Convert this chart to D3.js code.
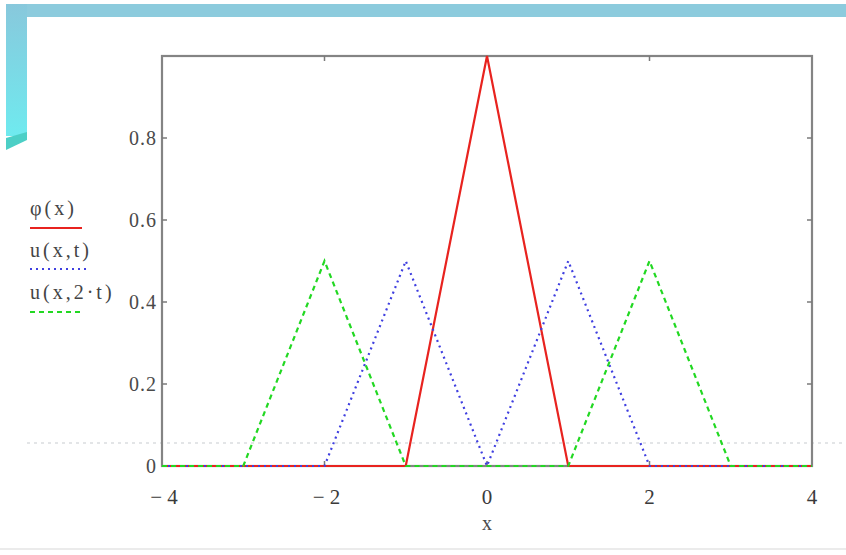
<!DOCTYPE html>
<html>
<head>
<meta charset="utf-8">
<script src="https://cdn.jsdelivr.net/npm/d3@7"></script>
<style>
  body { margin: 0; background: #fff; }
  text { font-family: "Liberation Serif", "DejaVu Serif", serif; }
</style>
</head>
<body>
<div id="chart"></div>
<script>
// grid points and series
var xs = [-4, -3, -2, -1, 0, 1, 2, 3, 4];
var phi = [0, 0, 0, 0, 1, 0, 0, 0, 0];
var uT = [0, 0, 0, 0.5, 0, 0.5, 0, 0, 0];
var u2T = [0, 0, 0.5, 0, 0, 0, 0.5, 0, 0];

var xTicks = [-4, -2, 0, 2, 4];
var yTicks = [0, 0.2, 0.4, 0.6, 0.8];
var legendLabels = ["φ(x)", "u(x,t)", "u(x,2·t)"];

var svgWidth = 846;
var svgHeight = 555;

var margin = { top: 56, right: 34, bottom: 89, left: 162 };
var width = svgWidth - margin.left - margin.right;
var height = svgHeight - margin.top - margin.bottom;

var svg = d3.select("#chart")
  .append("svg")
  .attr("width", svgWidth)
  .attr("height", svgHeight);

// slide decoration behind the plot
var defs = svg.append("defs");
var grad = defs.append("linearGradient")
  .attr("id", "sideGrad")
  .attr("x1", 0).attr("y1", 0).attr("x2", 0).attr("y2", 1);
grad.append("stop").attr("offset", "0%").attr("stop-color", "#88c8dc");
grad.append("stop").attr("offset", "100%").attr("stop-color", "#6feaef");

svg.append("rect")
  .attr("x", 6).attr("y", 4)
  .attr("width", 840).attr("height", 13)
  .attr("fill", "#8ccbdd");
svg.append("rect")
  .attr("x", 6).attr("y", 4)
  .attr("width", 21).attr("height", 132)
  .attr("fill", "url(#sideGrad)");
svg.append("path")
  .attr("d", "M6,138 L27,132 L27,140 L6,150 Z")
  .attr("fill", "#4ccfc6");
svg.append("line")
  .attr("x1", 27).attr("x2", 846)
  .attr("y1", 443).attr("y2", 443)
  .attr("stroke", "#c8ccd0")
  .attr("stroke-width", 1.2)
  .attr("stroke-dasharray", "3,4");
svg.append("line")
  .attr("x1", 0).attr("x2", 846)
  .attr("y1", 549).attr("y2", 549)
  .attr("stroke", "#e4e4e4")
  .attr("stroke-width", 1.5);

var chartGroup = svg.append("g")
  .attr("transform", `translate(${margin.left}, ${margin.top})`);

var x = d3.scaleLinear().domain([-4, 4]).range([0, width]);
var y = d3.scaleLinear().domain([0, 1]).range([height, 0]);

// frame
chartGroup.append("rect")
  .attr("width", width)
  .attr("height", height)
  .attr("fill", "none")
  .attr("stroke", "#848484")
  .attr("stroke-width", 2.2);

// inner ticks, Mathcad style, on all four sides
var tickLen = 5;
[-2, 0, 2].forEach(function(t) {
  chartGroup.append("line")
    .attr("x1", x(t)).attr("x2", x(t))
    .attr("y1", 0).attr("y2", tickLen)
    .attr("stroke", "#7a7a7a").attr("stroke-width", 1.5);
  chartGroup.append("line")
    .attr("x1", x(t)).attr("x2", x(t))
    .attr("y1", height).attr("y2", height - tickLen)
    .attr("stroke", "#7a7a7a").attr("stroke-width", 1.5);
});
yTicks.slice(1).forEach(function(t) {
  chartGroup.append("line")
    .attr("x1", 0).attr("x2", tickLen)
    .attr("y1", y(t)).attr("y2", y(t))
    .attr("stroke", "#7a7a7a").attr("stroke-width", 1.5);
  chartGroup.append("line")
    .attr("x1", width).attr("x2", width - tickLen)
    .attr("y1", y(t)).attr("y2", y(t))
    .attr("stroke", "#7a7a7a").attr("stroke-width", 1.5);
});

// tick labels
chartGroup.selectAll(".ylab")
  .data(yTicks)
  .enter()
  .append("text")
  .attr("x", -5)
  .attr("y", d => y(d) + 7)
  .attr("text-anchor", "end")
  .attr("font-size", 20)
  .attr("letter-spacing", 1)
  .attr("fill", "#4a4a4a")
  .text(d => d);

chartGroup.selectAll(".xlab")
  .data(xTicks)
  .enter()
  .append("text")
  .attr("x", d => d < 0 ? x(d) + 2 : x(d))
  .attr("y", height + 38)
  .attr("text-anchor", "middle")
  .attr("font-size", 21)
  .attr("fill", "#3a3a3a")
  .text(d => d < 0 ? "\u2212 " + Math.abs(d) : d);

chartGroup.append("text")
  .attr("x", x(0))
  .attr("y", height + 64)
  .attr("text-anchor", "middle")
  .attr("font-size", 20)
  .attr("fill", "#4a4a4a")
  .text("x");

// series
var series = [
  { values: phi, color: "#e8231f", dash: null },
  { values: uT, color: "#3f3fe0", dash: "2,4" },
  { values: u2T, color: "#22d822", dash: "5,4" }
];

var line = d3.line()
  .x((d, i) => x(xs[i]))
  .y(d => y(d));

series.forEach(function(s) {
  chartGroup.append("path")
    .attr("d", line(s.values))
    .attr("fill", "none")
    .attr("stroke", s.color)
    .attr("stroke-width", 2.2)
    .attr("stroke-dasharray", s.dash);
});

// legend on the left
var legendGroup = svg.append("g");
var legendY = [215, 257, 299];
var legendLineY = [228, 269, 312];
var legendLineEnd = [82, 88, 84];
legendLabels.forEach(function(label, i) {
  legendGroup.append("text")
    .attr("x", 30)
    .attr("y", legendY[i])
    .attr("font-size", 20)
    .attr("letter-spacing", 3)
    .attr("fill", "#444")
    .text(label);
  legendGroup.append("line")
    .attr("x1", 30).attr("x2", legendLineEnd[i])
    .attr("y1", legendLineY[i]).attr("y2", legendLineY[i])
    .attr("stroke", series[i].color)
    .attr("stroke-width", 2.2)
    .attr("stroke-dasharray", series[i].dash);
});
</script>
</body>
</html>
